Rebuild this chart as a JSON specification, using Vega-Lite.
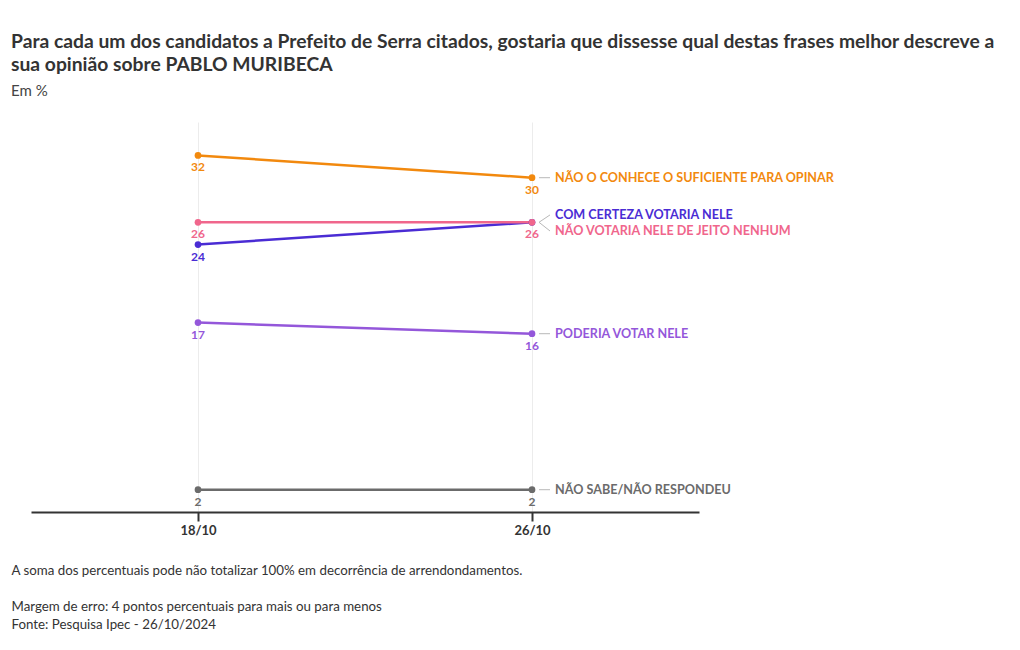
{
  "$schema": "https://vega.github.io/schema/vega-lite/v6.json",
  "width": 668,
  "height": 390,
  "autosize": {"type": "none"},
  "padding": {"left": 31, "top": 122, "right": 321, "bottom": 138},
  "background": "white",
  "title": {
    "text": ["Para cada um dos candidatos a Prefeito de Serra citados, gostaria que dissesse qual destas frases melhor descreve a", "sua opinião sobre PABLO MURIBECA"],
    "subtitle": "Em %",
    "anchor": "start",
    "frame": "group",
    "dx": -20,
    "offset": 23,
    "font": "Lato",
    "fontSize": 19.3,
    "fontWeight": "bold",
    "lineHeight": 23,
    "color": "#333333",
    "subtitleFont": "Lato",
    "subtitleFontSize": 15,
    "subtitleColor": "#444444",
    "subtitlePadding": 9
  },
  "data": {
    "values": [
      {"series": "NÃO O CONHECE O SUFICIENTE PARA OPINAR", "date": "18/10", "value": 32, "labelY": 32},
      {"series": "NÃO O CONHECE O SUFICIENTE PARA OPINAR", "date": "26/10", "value": 30, "labelY": 30},
      {"series": "COM CERTEZA VOTARIA NELE", "date": "18/10", "value": 24, "labelY": 24},
      {"series": "COM CERTEZA VOTARIA NELE", "date": "26/10", "value": 26, "labelY": 26.66},
      {"series": "NÃO VOTARIA NELE DE JEITO NENHUM", "date": "18/10", "value": 26, "labelY": 26},
      {"series": "NÃO VOTARIA NELE DE JEITO NENHUM", "date": "26/10", "value": 26, "labelY": 25.22},
      {"series": "PODERIA VOTAR NELE", "date": "18/10", "value": 17, "labelY": 17},
      {"series": "PODERIA VOTAR NELE", "date": "26/10", "value": 16, "labelY": 16},
      {"series": "NÃO SABE/NÃO RESPONDEU", "date": "18/10", "value": 2, "labelY": 2},
      {"series": "NÃO SABE/NÃO RESPONDEU", "date": "26/10", "value": 2, "labelY": 2}
    ]
  },
  "encoding": {
    "x": {
      "field": "date",
      "type": "ordinal",
      "scale": {"type": "point", "padding": 0.5},
      "axis": {
        "title": "A soma dos percentuais pode não totalizar 100% em decorrência de arrendondamentos.",
        "titleAnchor": "start",
        "titleAlign": "left",
        "titleBaseline": "top",
        "titleX": -20,
        "titleY": 51,
        "titleFont": "Lato",
        "titleFontSize": 13.3,
        "titleFontWeight": "normal",
        "titleColor": "#333333",
        "labelAngle": 0,
        "labelFont": "Lato",
        "labelFontSize": 13,
        "labelFontWeight": "bold",
        "labelColor": "#333333",
        "labelPadding": 3,
        "domainColor": "#333333",
        "domainWidth": 2,
        "tickColor": "#333333",
        "tickWidth": 2,
        "tickSize": 9,
        "grid": true,
        "gridColor": "#ececec",
        "gridWidth": 1
      }
    },
    "y": {
      "field": "value",
      "type": "quantitative",
      "scale": {"domain": [0, 35]},
      "axis": {
        "title": ["Margem de erro: 4 pontos percentuais para mais ou para menos", "Fonte: Pesquisa Ipec - 26/10/2024"],
        "domain": false,
        "ticks": false,
        "labels": false,
        "grid": false,
        "titleAngle": 0,
        "titleAnchor": "start",
        "titleAlign": "left",
        "titleBaseline": "top",
        "titleX": -20,
        "titleY": 477,
        "titleFont": "Lato",
        "titleFontSize": 13.3,
        "titleFontWeight": "normal",
        "titleLineHeight": 18,
        "titleColor": "#333333"
      }
    },
    "color": {
      "field": "series",
      "type": "nominal",
      "scale": {
        "domain": ["NÃO O CONHECE O SUFICIENTE PARA OPINAR", "COM CERTEZA VOTARIA NELE", "NÃO VOTARIA NELE DE JEITO NENHUM", "PODERIA VOTAR NELE", "NÃO SABE/NÃO RESPONDEU"],
        "range": ["#f2890e", "#4a2cd4", "#f0668c", "#9457da", "#6b6b6b"]
      },
      "legend": null
    }
  },
  "layer": [
    {
      "mark": {"type": "line", "strokeWidth": 2.5},
      "encoding": {"detail": {"field": "series"}}
    },
    {
      "mark": {"type": "point", "filled": true, "opacity": 1, "size": 45}
    },
    {
      "transform": [{"filter": "!(datum.series == 'COM CERTEZA VOTARIA NELE' && datum.date == '26/10')"}],
      "mark": {"type": "text", "font": "Lato", "fontSize": 12, "fontWeight": "bold", "baseline": "middle", "dy": 12},
      "encoding": {"text": {"field": "value", "type": "quantitative"}}
    },
    {
      "transform": [{"filter": "datum.date == '26/10'"}],
      "mark": {"type": "rule", "color": "#b8b8b8", "strokeWidth": 1, "xOffset": 7, "x2Offset": 18},
      "encoding": {
        "x2": {"field": "date"},
        "y2": {"field": "labelY"},
        "color": {"value": "#b8b8b8"}
      }
    },
    {
      "transform": [{"filter": "datum.date == '26/10'"}],
      "mark": {"type": "text", "font": "Lato", "fontSize": 12.6, "fontWeight": "bold", "align": "left", "baseline": "middle", "dx": 23},
      "encoding": {
        "y": {"field": "labelY", "type": "quantitative"},
        "text": {"field": "series"}
      }
    }
  ],
  "config": {"view": {"stroke": null}}
}
